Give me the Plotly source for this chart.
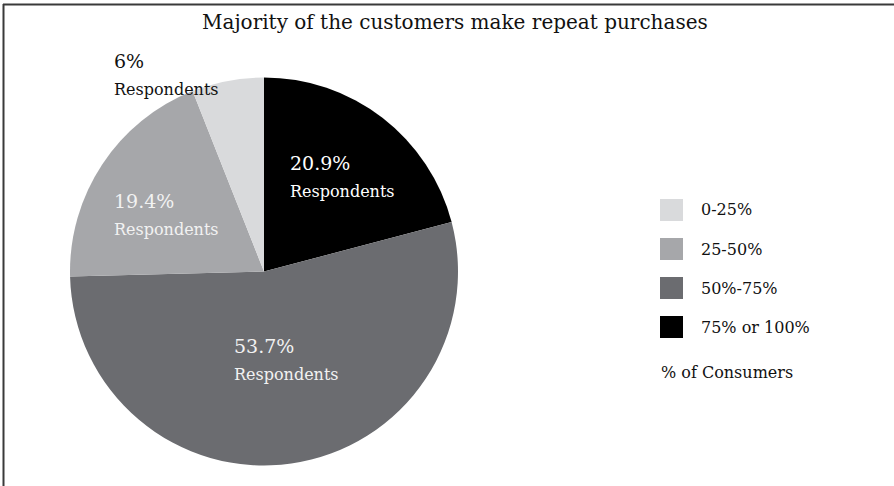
import plotly.graph_objects as go

# Share of respondents by proportion of repeat purchases
categories = ["0-25%", "25-50%", "50%-75%", "75% or 100%"]
shares = [6, 19.4, 53.7, 20.9]
colors = ["#d9dadc", "#a6a7aa", "#6b6c70", "#000000"]
legend_title = "% of Consumers"
title = "Majority of the customers make repeat purchases"
sub_label = "Respondents"

W, H = 894, 486
FONT = "DejaVu Serif"


def px(x):
    return x / W


def py(y):
    return 1 - y / H


# Slices run clockwise from 12 o'clock, starting with the largest bucket
fig = go.Figure()
fig.add_trace(go.Pie(
    labels=categories[::-1],
    values=shares[::-1],
    marker=dict(colors=colors[::-1], line=dict(width=0)),
    sort=False,
    direction="clockwise",
    rotation=0,
    textinfo="none",
    hoverinfo="label+percent",
    showlegend=False,
    domain=dict(x=[px(70), px(458)], y=[py(466), py(77)]),
))

annotations = []

# Slice labels: (left x, y of value line, text colour)
label_pos = [
    (112, 61, "#111111"),
    (112, 201, "#f2f2f2"),
    (232, 346, "#f2f2f2"),
    (288, 163, "#ffffff"),
]
for v, (lx, ly, col) in zip(shares, label_pos):
    annotations.append(dict(
        x=px(lx), y=py(ly), xref="paper", yref="paper",
        xanchor="left", yanchor="middle", showarrow=False,
        text=f"{v:g}%", font=dict(family=FONT, size=19, color=col),
    ))
    annotations.append(dict(
        x=px(lx), y=py(ly + 28), xref="paper", yref="paper",
        xanchor="left", yanchor="middle", showarrow=False,
        text=sub_label, font=dict(family=FONT, size=16, color=col),
    ))

# Title
annotations.append(dict(
    x=px(455), y=py(22), xref="paper", yref="paper",
    xanchor="center", yanchor="middle", showarrow=False,
    text=title, font=dict(family=FONT, size=20, color="#111111"),
))

# Custom legend with large swatches
shapes = []
row_y = [210, 249, 288, 327]
for cat, col, ry in zip(categories, colors, row_y):
    shapes.append(dict(
        type="rect", xref="paper", yref="paper",
        x0=px(660), x1=px(683), y0=py(ry - 11), y1=py(ry + 11),
        fillcolor=col, line=dict(width=0),
    ))
    annotations.append(dict(
        x=px(699), y=py(ry), xref="paper", yref="paper",
        xanchor="left", yanchor="middle", showarrow=False,
        text=cat, font=dict(family=FONT, size=16, color="#111111"),
    ))
annotations.append(dict(
    x=px(659), y=py(372), xref="paper", yref="paper",
    xanchor="left", yanchor="middle", showarrow=False,
    text=legend_title, font=dict(family=FONT, size=16, color="#111111"),
))

# Frame lines along the top and left edges
shapes.append(dict(type="line", xref="paper", yref="paper",
                   x0=px(3), x1=1.0, y0=py(4.5), y1=py(4.5),
                   line=dict(color="#3a3a3a", width=2)))
shapes.append(dict(type="line", xref="paper", yref="paper",
                   x0=px(3.5), x1=px(3.5), y0=py(4), y1=0.0,
                   line=dict(color="#3a3a3a", width=2)))

fig.update_layout(
    width=W, height=H,
    margin=dict(l=0, r=0, t=0, b=0),
    paper_bgcolor="#ffffff",
    plot_bgcolor="#ffffff",
    annotations=annotations,
    shapes=shapes,
    font=dict(family=FONT),
)

fig.write_html("out.html")
